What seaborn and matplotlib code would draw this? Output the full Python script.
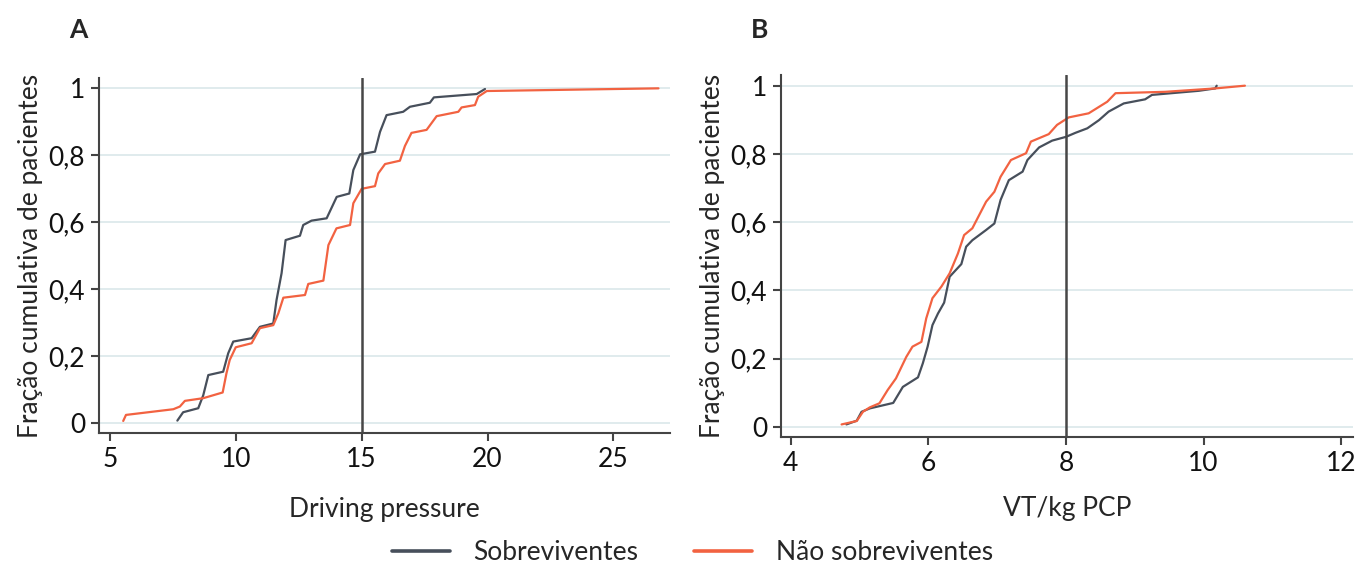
import numpy as np
import pandas as pd
import matplotlib.pyplot as plt
import seaborn as sns
from matplotlib.lines import Line2D

# Panel A: driving pressure, cumulative fraction
a_surv_x = [7.68, 7.91, 8.51, 8.71, 8.91, 9.50, 9.70, 9.90, 10.63, 10.96, 11.49, 11.62, 11.82, 11.98,
            12.55, 12.68, 13.01, 13.61, 14.01, 14.51, 14.67, 14.94, 15.53, 15.73, 15.99, 16.65, 16.92,
            17.71, 17.87, 19.57, 19.90]
a_surv_y = [0.008, 0.033, 0.045, 0.084, 0.144, 0.154, 0.209, 0.244, 0.254, 0.288, 0.298, 0.368, 0.448,
            0.547, 0.560, 0.592, 0.605, 0.612, 0.676, 0.686, 0.756, 0.803, 0.811, 0.870, 0.920, 0.930,
            0.945, 0.957, 0.973, 0.983, 0.998]
a_dead_x = [5.53, 5.64, 7.52, 7.78, 7.98, 8.71, 9.48, 9.63, 9.76, 10.0, 10.63, 10.96, 11.49, 11.69, 11.89,
            12.75, 12.88, 13.48, 13.68, 14.0, 14.54, 14.67, 15.0, 15.53, 15.66, 15.93, 16.52, 16.72, 16.98,
            17.58, 17.98, 18.84, 18.97, 19.50, 19.63, 19.97, 26.79]
a_dead_y = [0.007, 0.025, 0.042, 0.050, 0.067, 0.075, 0.092, 0.149, 0.189, 0.227, 0.239, 0.284, 0.293,
            0.328, 0.375, 0.383, 0.416, 0.426, 0.532, 0.582, 0.592, 0.657, 0.700, 0.708, 0.746, 0.774,
            0.784, 0.828, 0.867, 0.876, 0.917, 0.930, 0.943, 0.950, 0.975, 0.992, 1.0]

# Panel B: VT/kg PCP, cumulative fraction
b_surv_x = [4.81, 4.96, 5.03, 5.15, 5.49, 5.63, 5.85, 5.92, 5.99, 6.06, 6.14, 6.23, 6.31, 6.48, 6.55, 6.64,
            6.84, 6.96, 7.05, 7.17, 7.37, 7.44, 7.61, 7.80, 8.0, 8.14, 8.31, 8.48, 8.62, 8.84, 9.15, 9.25,
            9.93, 10.17, 10.19]
b_surv_y = [0.007, 0.018, 0.044, 0.054, 0.070, 0.117, 0.145, 0.186, 0.235, 0.298, 0.332, 0.364, 0.440,
            0.477, 0.528, 0.547, 0.577, 0.596, 0.665, 0.723, 0.748, 0.782, 0.819, 0.839, 0.850, 0.862,
            0.875, 0.899, 0.924, 0.948, 0.960, 0.973, 0.985, 0.992, 1.0]
b_dead_x = [4.74, 4.96, 5.05, 5.15, 5.29, 5.41, 5.53, 5.68, 5.77, 5.90, 5.97, 6.06, 6.19, 6.31, 6.43, 6.52,
            6.64, 6.84, 6.96, 7.05, 7.20, 7.42, 7.49, 7.75, 7.87, 8.04, 8.33, 8.60, 8.72, 9.44, 10.17, 10.60]
b_dead_y = [0.007, 0.017, 0.044, 0.057, 0.069, 0.108, 0.142, 0.205, 0.235, 0.249, 0.318, 0.377, 0.411,
            0.450, 0.508, 0.562, 0.582, 0.660, 0.689, 0.733, 0.782, 0.802, 0.836, 0.858, 0.885, 0.907,
            0.919, 0.953, 0.978, 0.982, 0.992, 1.0]

groups = ['Sobreviventes', 'Não sobreviventes']
y_ticks = [0, 0.2, 0.4, 0.6, 0.8, 1]
y_tick_labels = ['0', '0,2', '0,4', '0,6', '0,8', '1']

sns.set_style('white')
plt.rcParams['font.family'] = ['Lato', 'DejaVu Sans']

grey = '#474f5b'
orange = '#f26241'
palette = {groups[0]: grey, groups[1]: orange}
fs = 19

def make_df(sx, sy, dx, dy):
    return pd.concat([
        pd.DataFrame({'x': sx, 'y': sy, 'grupo': groups[0]}),
        pd.DataFrame({'x': dx, 'y': dy, 'grupo': groups[1]}),
    ], ignore_index=True)

df_a = make_df(a_surv_x, a_surv_y, a_dead_x, a_dead_y)
df_b = make_df(b_surv_x, b_surv_y, b_dead_x, b_dead_y)

fig = plt.figure(figsize=(13.55, 5.69), dpi=100)
ax1 = fig.add_axes([0.0731, 0.239, 0.4214, 0.624])
ax2 = fig.add_axes([0.5764, 0.2325, 0.4221, 0.6355])

panels = [
    (ax1, df_a, 'Driving pressure', 15, (4.57, 27.25), [5, 10, 15, 20, 25], 18),
    (ax2, df_b, 'VT/kg PCP', 8, (3.86, 12.17), [4, 6, 8, 10, 12], 15),
]

for ax, df, xlabel, vline, xlim, xticks, lpad in panels:
    for yt in y_ticks:
        ax.axhline(yt, color='#dde9ec', lw=1.3, zorder=0)
    sns.lineplot(data=df, x='x', y='y', hue='grupo', palette=palette, estimator=None,
                 sort=False, lw=1.6, ax=ax, legend=False)
    ax.axvline(vline, color='#474747', lw=1.8, zorder=3)
    ax.set_xlim(*xlim)
    ax.set_ylim(-0.029, 1.031)
    ax.set_xticks(xticks)
    ax.set_yticks(y_ticks)
    ax.set_yticklabels(y_tick_labels)
    ax.tick_params(axis='both', direction='out', length=6, width=1.5, color='#444444',
                   labelsize=fs, labelcolor='#111111', bottom=True, left=True, pad=4)
    for s in ['top', 'right']:
        ax.spines[s].set_visible(False)
    for s in ['left', 'bottom']:
        ax.spines[s].set_color('#444444')
        ax.spines[s].set_linewidth(1.5)
    ax.set_xlabel(xlabel, fontsize=fs, labelpad=lpad)
    ax.set_ylabel('Fração cumulativa de pacientes', fontsize=fs, labelpad=4)

fig.text(78 / 1355, 1 - 30 / 569, 'A', fontsize=fs, fontweight='bold', ha='center', va='center')
fig.text(760 / 1355, 1 - 30 / 569, 'B', fontsize=fs, fontweight='bold', ha='center', va='center')

handles = [Line2D([], [], color=palette[g], lw=2.6) for g in groups]
fig.legend(handles, groups, loc='center', bbox_to_anchor=(0.511, 1 - 553 / 569), ncol=2,
           frameon=False, fontsize=fs, handlelength=2.2, columnspacing=2.1, handletextpad=0.9,
           borderpad=0.1)

fig.savefig('out.png', dpi=100)
